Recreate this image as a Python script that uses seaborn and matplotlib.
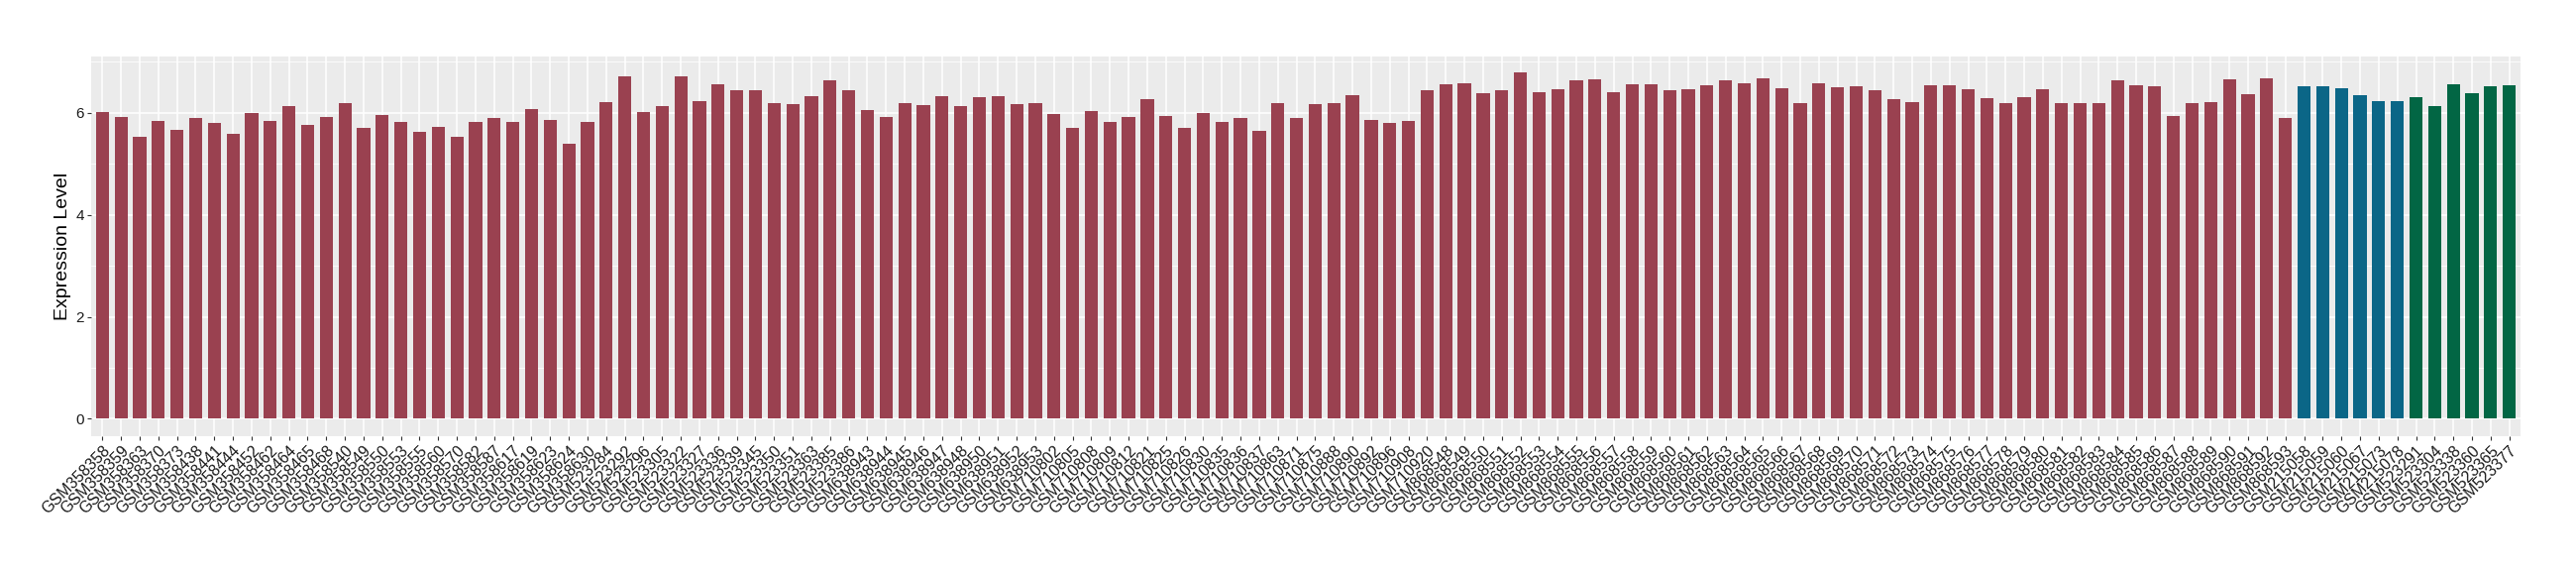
import matplotlib
matplotlib.use("Agg")
import matplotlib.pyplot as plt
from matplotlib.ticker import MultipleLocator
import pandas as pd
import seaborn as sns

# sample ids, in plot order
samples_a = (
    ["GSM358%s" % s for s in ["358", "359", "363", "370", "373", "438", "441", "444", "452",
                              "462", "464", "465", "468", "540", "549", "550", "553", "555",
                              "560", "570", "582", "587", "617", "619", "623", "624", "630"]]
    + ["GSM523%s" % s for s in ["284", "292", "296", "305", "322", "327", "336", "339", "345",
                                "350", "351", "363", "385", "386"]]
    + ["GSM638%s" % s for s in ["943", "944", "945", "946", "947", "948", "950", "951", "952", "953"]]
    + ["GSM710%s" % s for s in ["802", "805", "808", "809", "812", "821", "825", "826", "830",
                                "835", "836", "837", "863", "871", "875", "888", "890", "892",
                                "896", "908", "920"]]
    + ["GSM868%d" % n for n in range(548, 594)]
)
samples_b = ["GSM215058", "GSM215059", "GSM215060", "GSM215067", "GSM215073", "GSM215078"]
samples_c = ["GSM523291", "GSM523304", "GSM523338", "GSM523360", "GSM523365", "GSM523377"]

values_a = [
    6.02, 5.92, 5.53, 5.84, 5.67, 5.90, 5.79, 5.59, 6.00, 5.84, 6.12, 5.75, 5.92, 6.18,
    5.71, 5.96, 5.81, 5.63, 5.73, 5.53, 5.81, 5.90, 5.82, 6.08, 5.86, 5.40, 5.81,
    6.21, 6.72, 6.02, 6.12, 6.72, 6.23, 6.55, 6.43, 6.43, 6.19, 6.16, 6.33, 6.64,
    6.43, 6.06, 5.92, 6.19, 6.14, 6.33, 6.12, 6.31, 6.33, 6.16, 6.18,
    5.98, 5.71, 6.04, 5.82, 5.92, 6.27, 5.94, 5.71, 6.00, 5.82, 5.90, 5.65, 6.18, 5.90,
    6.16, 6.19, 6.35, 5.86, 5.79, 5.84, 6.43,
    6.56, 6.58, 6.39, 6.43, 6.78, 6.41, 6.45, 6.64, 6.66, 6.41, 6.56, 6.56, 6.43, 6.45,
    6.53, 6.64, 6.58, 6.68, 6.47, 6.18, 6.58, 6.49, 6.51, 6.43, 6.27, 6.21, 6.53, 6.53,
    6.45, 6.29, 6.19, 6.31, 6.45, 6.18, 6.19, 6.19, 6.64, 6.53, 6.51, 5.94, 6.19, 6.21,
    6.66, 6.37, 6.68, 5.90,
]
values_b = [6.51, 6.51, 6.47, 6.35, 6.23, 6.23]
values_c = [6.31, 6.12, 6.55, 6.39, 6.51, 6.53]

group_colors = {"A": "#9a4150", "B": "#0b6687", "C": "#026644"}

df = pd.DataFrame({
    "sample": samples_a + samples_b + samples_c,
    "value": values_a + values_b + values_c,
    "group": ["A"] * len(samples_a) + ["B"] * len(samples_b) + ["C"] * len(samples_c),
})

plt.rcParams["font.family"] = ["Liberation Sans", "DejaVu Sans"]

fig = plt.figure(figsize=(26, 5.8), dpi=100)
ax = fig.add_axes([92 / 2600, 1 - 440 / 580, 2452 / 2600, 383 / 580])

sns.barplot(data=df, x="sample", y="value", hue="group", palette=group_colors,
            order=df["sample"], dodge=False, width=0.7, legend=False,
            saturation=1, ax=ax)

# ggplot-like grey panel
ax.set_facecolor("#ebebeb")
for s in ax.spines.values():
    s.set_visible(False)
ax.set_axisbelow(True)
ax.yaxis.set_major_locator(MultipleLocator(2))
ax.yaxis.set_minor_locator(MultipleLocator(1))
ax.grid(True, which="major", color="white", linewidth=1.1)
ax.grid(True, which="minor", axis="y", color="white", linewidth=0.55)
ax.tick_params(axis="y", which="minor", length=0)
ax.tick_params(axis="both", which="major", length=3, width=0.8, color="#333333",
               labelcolor="#1a1a1a", pad=2)
ax.tick_params(axis="y", labelsize=11)

ax.set_xlim(-0.6, len(df) - 0.4)
ax.set_ylim(-0.34, 7.1)

plt.setp(ax.get_xticklabels(), rotation=45, ha="right", va="top",
         rotation_mode="anchor", fontsize=11.5)

ax.set_xlabel("")
ax.set_ylabel("Expression Level", fontsize=14, color="black", labelpad=3)

fig.savefig("out.png", dpi=100)
